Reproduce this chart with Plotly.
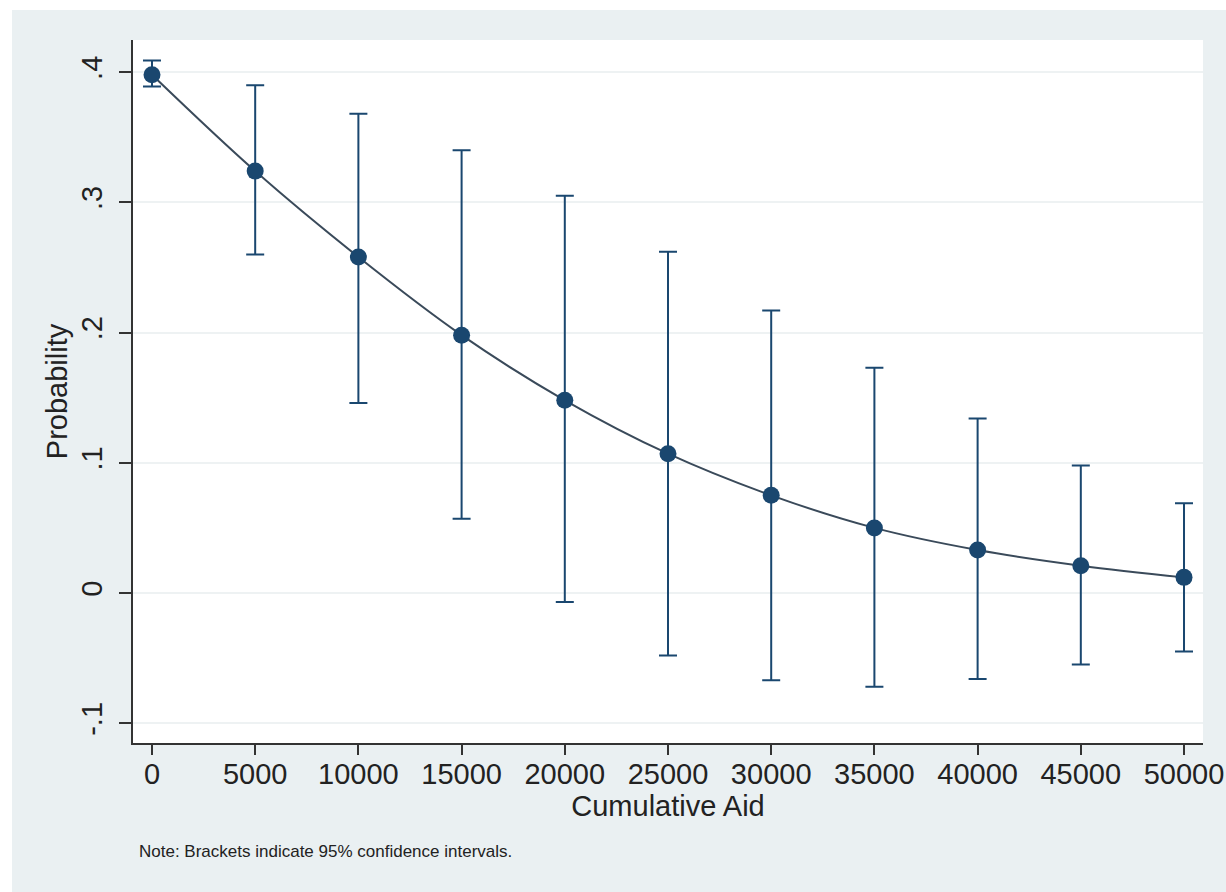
import plotly.graph_objects as go

# Data
cumulative_aid = [0, 5000, 10000, 15000, 20000, 25000, 30000, 35000, 40000, 45000, 50000]
probability = [0.398, 0.324, 0.258, 0.198, 0.148, 0.107, 0.075, 0.050, 0.033, 0.021, 0.012]
ci_upper = [0.409, 0.390, 0.368, 0.340, 0.305, 0.262, 0.217, 0.173, 0.134, 0.098, 0.069]
ci_lower = [0.389, 0.260, 0.146, 0.057, -0.007, -0.048, -0.067, -0.072, -0.066, -0.055, -0.045]

x_tickvals = [0, 5000, 10000, 15000, 20000, 25000, 30000, 35000, 40000, 45000, 50000]
x_ticktext = ["0", "5000", "10000", "15000", "20000", "25000", "30000", "35000", "40000", "45000", "50000"]
y_tickvals = [-0.1, 0, 0.1, 0.2, 0.3, 0.4]
y_ticktext = ["-.1", "0", ".1", ".2", ".3", ".4"]

err_plus = [u - p for u, p in zip(ci_upper, probability)]
err_minus = [p - l for p, l in zip(probability, ci_lower)]

NAVY = "#1a476f"
LINE = "#3a4a5a"
BG = "#eaf0f2"
FONT = "Liberation Sans, Arial, sans-serif"

fig = go.Figure()

fig.add_trace(go.Scatter(
    x=cumulative_aid, y=probability,
    mode="lines",
    line=dict(color=LINE, width=2, shape="spline", smoothing=1.0),
    hoverinfo="skip", showlegend=False,
))

fig.add_trace(go.Scatter(
    x=cumulative_aid, y=probability,
    mode="markers",
    marker=dict(color=NAVY, size=17),
    error_y=dict(type="data", symmetric=False, array=err_plus, arrayminus=err_minus,
                 color=NAVY, thickness=2, width=9),
    showlegend=False,
))

W, H = 1226, 892
L, R, T, B = 133, 23, 40, 149
pw, ph = W - L - R, H - T - B

def px_x(p):
    return (p - L) / pw

def px_y(p):
    return (H - B - p) / ph

fig.update_layout(
    width=W, height=H,
    margin=dict(l=L, r=R, t=T, b=B, autoexpand=False),
    paper_bgcolor=BG,
    plot_bgcolor="white",
    font=dict(family=FONT, color="#222222"),
    xaxis=dict(
        range=[-920, 50920],
        automargin=False,
        tickvals=x_tickvals, ticktext=x_ticktext,
        tickfont=dict(size=29, color="#222222"),
        ticks="outside", ticklen=10, tickwidth=2, tickcolor="#333333",
        ticklabelstandoff=-6,
        showline=True, linecolor="#333333", linewidth=2,
        showgrid=False, zeroline=False,
        title=dict(text="Cumulative Aid", font=dict(size=29, color="#222222"), standoff=0),
    ),
    yaxis=dict(
        range=[-0.1152, 0.4247],
        automargin=False,
        tickvals=y_tickvals, ticktext=y_ticktext,
        tickangle=-90,
        tickfont=dict(size=29, color="#222222"),
        ticks="outside", ticklen=12, tickwidth=2, tickcolor="#333333",
        ticklabelstandoff=5,
        showline=True, linecolor="#333333", linewidth=2,
        showgrid=True, gridcolor="#eef2f3", gridwidth=2,
        zeroline=False,
        title=dict(text="Probability", font=dict(size=29, color="#222222"), standoff=0),
    ),
    shapes=[
        dict(type="rect", xref="paper", yref="paper",
             x0=px_x(0), x1=px_x(12), y0=px_y(H), y1=px_y(0),
             fillcolor="white", line=dict(width=0), layer="below"),
        dict(type="rect", xref="paper", yref="paper",
             x0=px_x(0), x1=px_x(W), y0=px_y(10), y1=px_y(0),
             fillcolor="white", line=dict(width=0), layer="below"),
    ],
    annotations=[
        dict(text="Note: Brackets indicate 95% confidence intervals.",
             xref="paper", yref="paper", x=px_x(137), y=px_y(851),
             xanchor="left", yanchor="middle", showarrow=False,
             font=dict(size=17, color="#222222", family=FONT)),
    ],
)

fig.write_html("out.html")
